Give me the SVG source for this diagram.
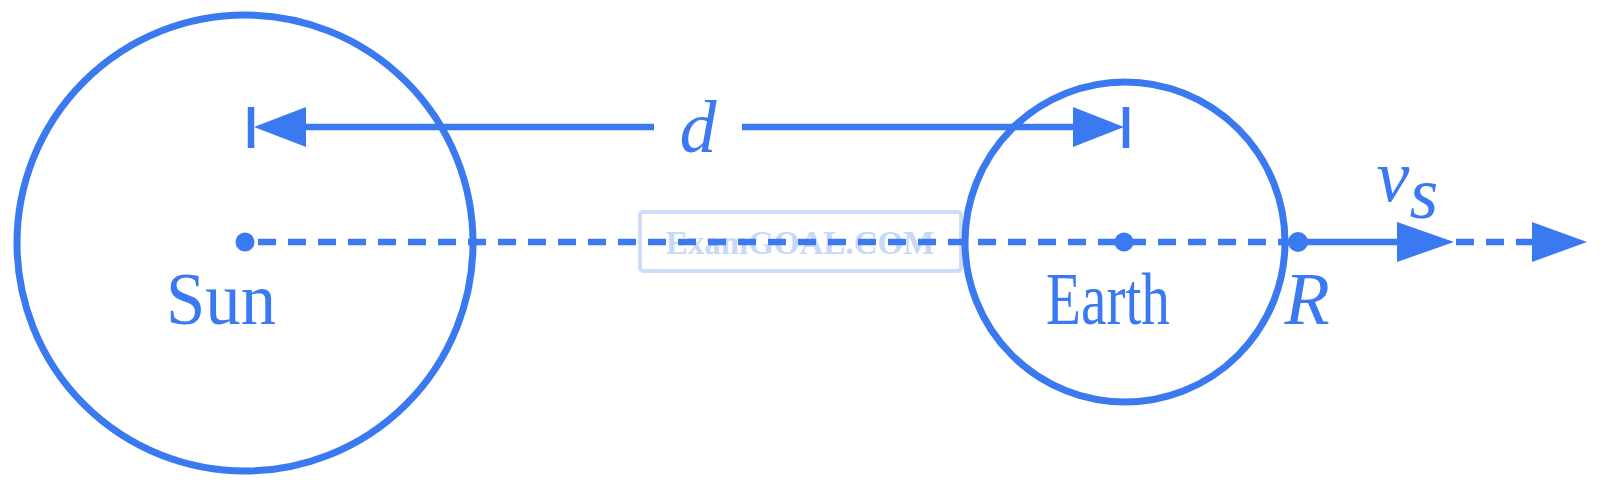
<svg xmlns="http://www.w3.org/2000/svg" width="1600" height="484" viewBox="0 0 1600 484">
<style>
.b{fill:none;stroke:#3a79f0;stroke-width:7}
.dash{fill:none;stroke:#3a79f0;stroke-width:6.5;stroke-dasharray:18 12}
.ln{fill:none;stroke:#3a79f0;stroke-width:6.5}
.fill{fill:#3a79f0}
.lbl{font-family:"Liberation Serif",serif;fill:#3a79f0;font-size:74px}
.it{font-style:italic}
.wm{font-family:"Liberation Serif",serif;font-weight:bold;fill:#c8d8f8;font-size:33px}
</style>
<rect width="1600" height="484" fill="#fff"/>
<g id="watermark">
<rect x="640" y="212" width="321" height="59" rx="3" fill="none" stroke="#cddcf8" stroke-width="4"/>
<text class="wm" x="800" y="254" text-anchor="middle">ExamGOAL.COM</text>
</g>
<g id="sun">
<circle class="b" cx="245" cy="243" r="228"/>
<circle class="fill" cx="245" cy="242" r="9.5"/>
<text class="lbl" x="166" y="324" textLength="110" lengthAdjust="spacingAndGlyphs">Sun</text>
</g>
<g id="earth">
<circle class="b" cx="1125" cy="242" r="160"/>
<circle class="fill" cx="1124" cy="242" r="9.5"/>
<text class="lbl" x="1046" y="324" textLength="124" lengthAdjust="spacingAndGlyphs">Earth</text>
</g>
<g id="connectors">
<line class="dash" x1="258" y1="242" x2="1290" y2="242"/>
<line class="dash" x1="1456" y1="242" x2="1535" y2="242"/>
<path class="fill" d="M1532 222 L1587 242 L1532 262 Z"/>
<line class="ln" x1="1298" y1="242" x2="1400" y2="242"/>
<path class="fill" d="M1397 222 L1454 242 L1397 262 Z"/>
<circle class="fill" cx="1298" cy="242" r="10"/>
<line class="ln" x1="300" y1="127" x2="654" y2="127"/>
<path class="fill" d="M306 107 L254 127 L306 147 Z"/>
<line class="ln" x1="251" y1="107" x2="251" y2="148"/>
<line class="ln" x1="742" y1="127" x2="1080" y2="127"/>
<path class="fill" d="M1073 107 L1124 127 L1073 147 Z"/>
<line class="ln" x1="1126" y1="107" x2="1126" y2="148"/>
</g>
<g id="labels">
<text class="lbl it" x="698" y="152" font-size="68" text-anchor="middle">d</text>
<text class="lbl it" x="1307" y="324" text-anchor="middle">R</text>
<text class="lbl it" x="1393" y="201" font-size="60" text-anchor="middle">v</text>
<text class="lbl it" x="1424" y="218" font-size="34" text-anchor="middle">s</text>
</g>
</svg>
